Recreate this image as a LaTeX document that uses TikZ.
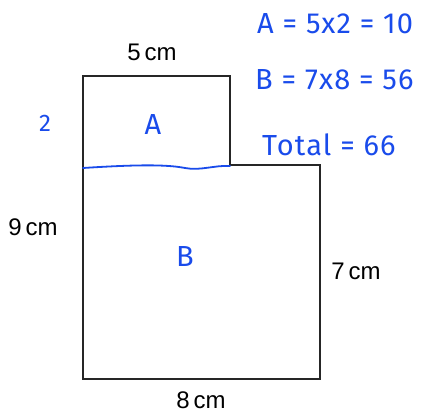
\documentclass[tikz,border=0pt]{standalone}
\usepackage{fontspec}
\setmainfont{Liberation Sans}
\newfontfamily\handfont[LetterSpace=4]{Fira Sans}
\definecolor{pen}{RGB}{25,75,235}
\begin{document}
\begin{tikzpicture}[x=1pt,y=-1pt,
  lbl/.style={inner sep=0pt,font=\fontsize{24}{24}\selectfont},
  hand/.style={inner sep=0pt,text=pen,font=\handfont\fontsize{29}{29}\selectfont},
  outline/.style={draw=black!85,line width=1.6pt,line join=miter}]
\useasboundingbox[fill=white] (0,0) rectangle (426,414);
\coordinate (p1) at (83,76);
\coordinate (p2) at (230,76);
\coordinate (p3) at (230,165);
\coordinate (p4) at (320,165);
\coordinate (p5) at (320,379);
\coordinate (p6) at (83,379);
\draw[outline] (p1) -- (p2) -- (p3) -- (p4) -- (p5) -- (p6) -- cycle;
\coordinate (w1) at (83,168);
\coordinate (w2) at (230,166);
\draw[pen,line width=1.8pt,line cap=round] (w1) .. controls (130,165) and (165,164) .. (185,168) .. controls (200,171) and (215,165) .. (w2);
\node[lbl] (t5) at (152,52) {5\,cm};
\node[lbl] (t9) at (33,227) {9\,cm};
\node[lbl] (t7) at (356,271) {7\,cm};
\node[lbl] (t8) at (201,400) {8\,cm};
\node[hand] (hA) at (153,125) {A};
\node[hand] (hB) at (185,257) {B};
\node[hand,font=\handfont\fontsize{24}{24}\selectfont] (h2) at (45,123) {2};
\node[hand,anchor=west] (e1) at (257,24) {A = 5x2 = 10};
\node[hand,anchor=west] (e2) at (255,80) {B = 7x8 = 56};
\node[hand,anchor=west] (e3) at (262,145) {Total = 66};
\end{tikzpicture}
\end{document}
